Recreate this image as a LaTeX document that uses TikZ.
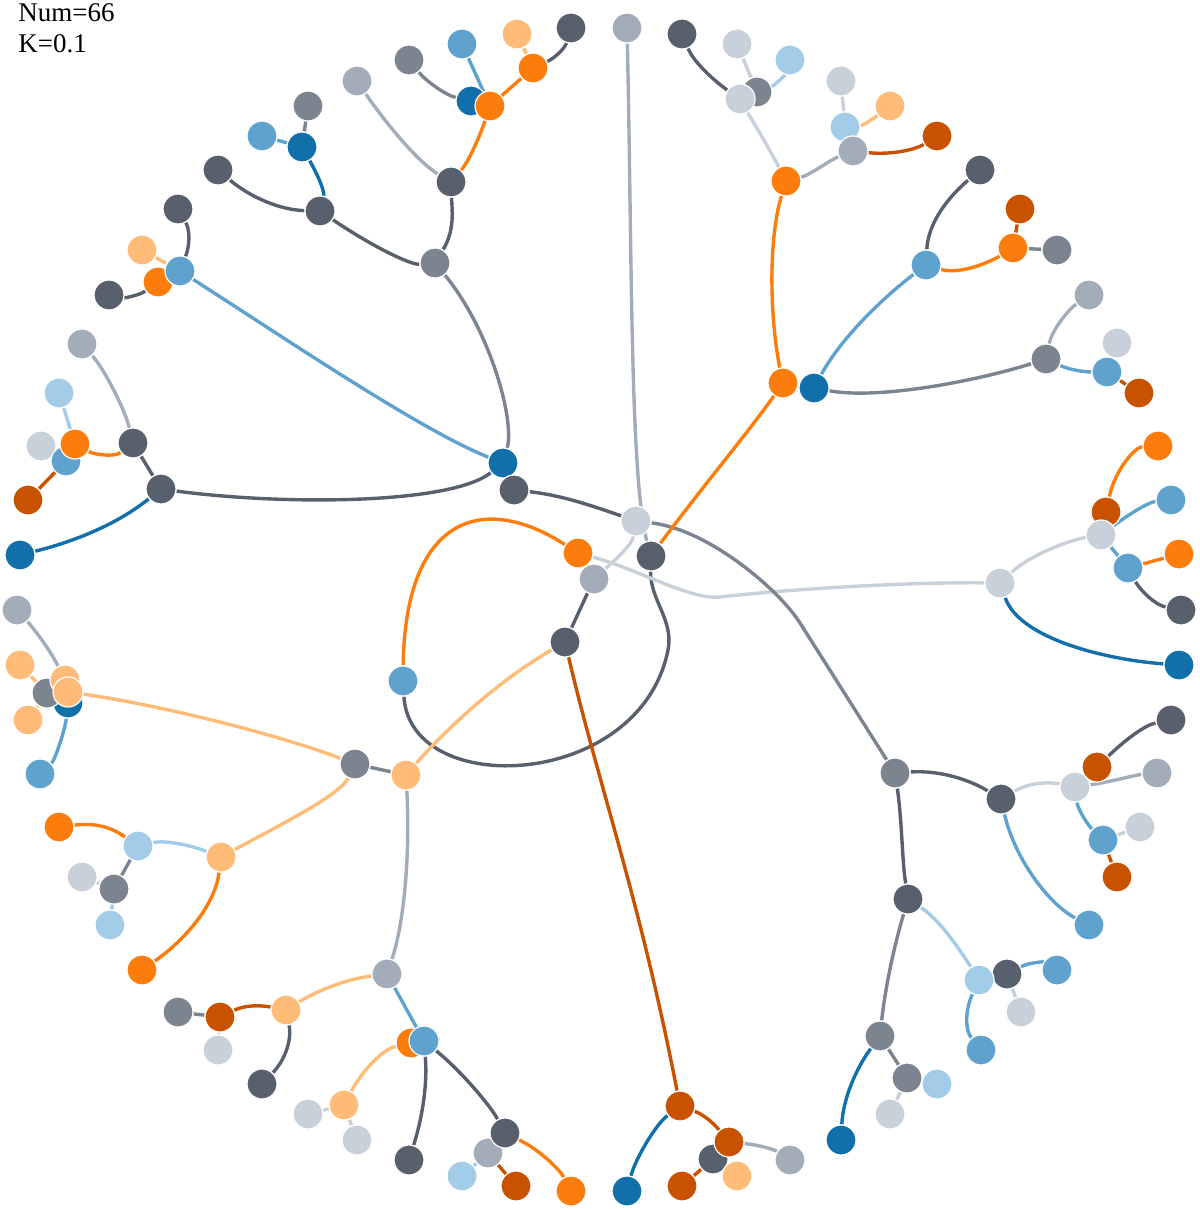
\documentclass[tikz,border=0pt]{standalone}
\usepackage{fontspec}
\setmainfont{Liberation Serif}
\usetikzlibrary{backgrounds}
\definecolor{cDB}{HTML}{1170AA}
\definecolor{cMB}{HTML}{5FA2CE}
\definecolor{cLB}{HTML}{A3CCE9}
\definecolor{cOR}{HTML}{FC7D0B}
\definecolor{cLO}{HTML}{FFBC79}
\definecolor{cDO}{HTML}{C85200}
\definecolor{cDG}{HTML}{57606C}
\definecolor{cGR}{HTML}{7B848F}
\definecolor{cGT}{HTML}{A3ACB9}
\definecolor{cLG}{HTML}{C8D0D9}
\tikzset{
  vtx/.style={circle,draw=white,line width=0.6pt,minimum size=15pt,inner sep=0pt},
  ed/.style={line width=1.7pt},
  lbl/.style={anchor=base west,inner sep=0pt,font=\fontsize{13.5}{16}\selectfont}
}
\newcommand\vx[4]{\node[vtx,fill=c#2] (#1) at (#3,#4) {};}
\newcommand\sedge[3]{\draw[ed,draw=c#1] (#2) -- (#3);}
\begin{document}
\begin{tikzpicture}[x=0.5pt,y=-0.5pt]
\useasboundingbox (0,0) rectangle (1199,1209);
\node[lbl] (t1) at (18,22) {Num=66};
\node[lbl] (t2) at (18,53) {K=0.1};
% ---------- nodes ----------
\vx{r}{MB}{403}{681}
\vx{a}{OR}{578}{553}
\vx{dgc}{DG}{651}{556}
\vx{c}{GT}{594}{579}
\vx{d}{LG}{636}{521}
\vx{dgm}{DG}{565}{642}
\vx{f}{DB}{503}{463}
\vx{e}{DG}{514}{490}
% top-left
\vx{g}{GR}{435}{263}
\vx{h}{DG}{451}{182}
\vx{h1}{GT}{357}{81}
\vx{h21}{DB}{471}{101}
\vx{h2}{OR}{490}{106}
\vx{h211}{GR}{409}{60}
\vx{h22}{MB}{462}{44}
\vx{h23}{OR}{533}{68}
\vx{h231}{LO}{517}{34}
\vx{h232}{DG}{571}{28}
\vx{i}{DG}{320}{211}
\vx{i1}{DB}{302}{147}
\vx{i11}{GR}{308}{106}
\vx{i12}{MB}{262}{136}
\vx{i2}{DG}{218}{170}
\vx{j3}{OR}{158}{282}
\vx{j}{MB}{180}{271}
\vx{j1}{DG}{178}{209}
\vx{j2}{LO}{142}{250}
\vx{j31}{DG}{109}{295}
% left
\vx{k}{DG}{161}{489}
\vx{k1}{DG}{133}{443}
\vx{k11}{GT}{82}{344}
\vx{k1222}{LG}{41}{446}
\vx{k122}{MB}{66}{461}
\vx{k12}{OR}{75}{444}
\vx{k121}{LB}{59}{393}
\vx{k1221}{DO}{28}{500}
\vx{k2}{DB}{20}{555}
% left lower
\vx{m}{LO}{406}{775}
\vx{m1}{GR}{355}{764}
\vx{m113}{DB}{68}{703}
\vx{m112}{GR}{47}{693}
\vx{m111}{LO}{65}{680}
\vx{m11}{LO}{68}{692}
\vx{m1111}{GT}{17}{610}
\vx{m1121}{LO}{20}{665}
\vx{m1122}{LO}{28}{720}
\vx{m1131}{MB}{40}{774}
\vx{m12}{LO}{221}{857}
\vx{m121}{LB}{138}{846}
\vx{m1211}{OR}{59}{827}
\vx{m1212}{GR}{114}{889}
\vx{m12121}{LG}{82}{877}
\vx{m12122}{LB}{110}{925}
\vx{m122}{OR}{142}{970}
\vx{m2}{GT}{387}{974}
\vx{m21}{LO}{286}{1010}
\vx{m211}{DO}{220}{1017}
\vx{m2111}{GR}{178}{1012}
\vx{m2112}{LG}{218}{1050}
\vx{m212}{DG}{262}{1084}
\vx{m221}{OR}{411}{1043}
\vx{m22}{MB}{424}{1041}
\vx{m2211}{LO}{344}{1105}
\vx{m22111}{LG}{308}{1114}
\vx{m22112}{LG}{357}{1140}
\vx{m222}{DG}{409}{1160}
\vx{m2231}{GT}{488}{1153}
\vx{m223}{DG}{505}{1133}
\vx{m22311}{LB}{462}{1176}
\vx{m22312}{DO}{516}{1186}
\vx{m2232}{OR}{571}{1191}
% bottom
\vx{n}{DO}{680}{1106}
\vx{n1}{DB}{627}{1191}
\vx{n22}{DG}{713}{1159}
\vx{n2}{DO}{729}{1142}
\vx{n21}{GT}{790}{1160}
\vx{n221}{DO}{682}{1186}
\vx{n222}{LO}{737}{1176}
% bottom right
\vx{p}{GR}{895}{773}
\vx{p1}{DG}{1001}{799}
\vx{p11}{LG}{1075}{787}
\vx{p111}{DO}{1097}{767}
\vx{p1111}{DG}{1171}{720}
\vx{p112}{GT}{1157}{773}
\vx{p113}{MB}{1103}{840}
\vx{p1131}{LG}{1140}{827}
\vx{p1132}{DO}{1117}{877}
\vx{p12}{MB}{1089}{925}
\vx{p2}{DG}{908}{899}
\vx{p211}{DG}{1007}{974}
\vx{p21}{LB}{979}{980}
\vx{p2111}{MB}{1057}{970}
\vx{p2112}{LG}{1021}{1012}
\vx{p212}{MB}{981}{1050}
\vx{p22}{GR}{880}{1036}
\vx{p221}{DB}{841}{1140}
\vx{p222}{GR}{907}{1078}
\vx{p2221}{LB}{937}{1084}
\vx{p2222}{LG}{890}{1114}
% right
\vx{b}{LG}{1000}{583}
\vx{b11}{DO}{1106}{512}
\vx{b1}{LG}{1101}{535}
\vx{b111}{OR}{1158}{446}
\vx{b12}{MB}{1171}{500}
\vx{b13}{MB}{1128}{568}
\vx{b131}{OR}{1179}{554}
\vx{b132}{DG}{1181}{610}
\vx{b2}{DB}{1179}{665}
% top right
\vx{q}{GT}{627}{28}
\vx{s}{OR}{783}{383}
\vx{s2}{DB}{814}{388}
\vx{s1}{OR}{786}{181}
\vx{s112}{GR}{757}{92}
\vx{s11}{LG}{740}{99}
\vx{s111}{DG}{682}{34}
\vx{s1121}{LG}{737}{44}
\vx{s1122}{LB}{790}{60}
\vx{s121}{LB}{845}{127}
\vx{s12}{GT}{853}{151}
\vx{s1211}{LG}{841}{81}
\vx{s1212}{LO}{890}{106}
\vx{s122}{DO}{937}{136}
\vx{s21}{MB}{926}{265}
\vx{s211}{DG}{980}{170}
\vx{s212}{OR}{1013}{248}
\vx{s2121}{DO}{1020}{209}
\vx{s2122}{GR}{1057}{250}
\vx{s22}{GR}{1046}{359}
\vx{s221}{GT}{1089}{295}
\vx{s2221}{LG}{1117}{343}
\vx{s222}{MB}{1107}{372}
\vx{s2222}{DO}{1139}{393}
% ---------- edges ----------
\begin{pgfonlayer}{background}
% root
\draw[ed,draw=cOR] (r) .. controls (405,520) and (480,490) .. (a);
\draw[ed,draw=cDG] (r) .. controls (410,800) and (640,790) .. (668,650) .. controls (674,620) and (650,600) .. (dgc);
\draw[ed,draw=cLG] (a) .. controls (640,570) and (690,600) .. (720,597) .. controls (780,590) and (900,582) .. (b);
\sedge{GT}{a}{c}
\draw[ed,draw=cLG] (c) .. controls (615,560) and (632,545) .. (d);
\sedge{DG}{c}{dgm}
\draw[ed,draw=cLO] (dgm) .. controls (500,680) and (450,725) .. (m);
\draw[ed,draw=cDO] (dgm) .. controls (600,790) and (640,900) .. (n);
\draw[ed,draw=cDG] (d) .. controls (590,505) and (560,495) .. (e);
\draw[ed,draw=cGR] (d) .. controls (710,530) and (780,591) .. (800,623) -- (p);
\sedge{DB}{e}{f}
\draw[ed,draw=cDG] (f) .. controls (450,505) and (280,505) .. (k);
\draw[ed,draw=cMB] (f) .. controls (420,430) and (280,335) .. (j);
\draw[ed,draw=cGR] (f) .. controls (515,420) and (490,330) .. (g);
% top-left
\draw[ed,draw=cDG] (g) .. controls (455,230) and (452,210) .. (h);
\draw[ed,draw=cDG] (g) .. controls (410,265) and (370,245) .. (i);
\draw[ed,draw=cGT] (h) .. controls (415,160) and (380,115) .. (h1);
\draw[ed,draw=cOR] (h) .. controls (470,160) and (482,130) .. (h2);
\sedge{DB}{h2}{h21}
\draw[ed,draw=cGR] (h21) .. controls (445,95) and (425,80) .. (h211);
\sedge{MB}{h2}{h22}
\sedge{OR}{h2}{h23}
\sedge{LO}{h23}{h231}
\draw[ed,draw=cDG] (h23) .. controls (555,58) and (565,48) .. (h232);
\draw[ed,draw=cDB] (i) .. controls (325,190) and (315,170) .. (i1);
\sedge{GR}{i1}{i11}
\sedge{MB}{i1}{i12}
\draw[ed,draw=cDG] (i) .. controls (280,210) and (250,197) .. (i2);
\draw[ed,draw=cDG] (j) .. controls (190,245) and (190,230) .. (j1);
\sedge{LO}{j}{j2}
\sedge{OR}{j}{j3}
\draw[ed,draw=cDG] (j3) .. controls (140,295) and (125,298) .. (j31);
% left
\sedge{DG}{k}{k1}
\draw[ed,draw=cDB] (k) .. controls (110,530) and (60,545) .. (k2);
\draw[ed,draw=cGT] (k1) .. controls (125,410) and (105,370) .. (k11);
\draw[ed,draw=cOR] (k1) .. controls (115,457) and (95,455) .. (k12);
\sedge{LB}{k12}{k121}
\sedge{MB}{k12}{k122}
\sedge{DO}{k122}{k1221}
\sedge{LG}{k122}{k1222}
% left lower
\sedge{GR}{m}{m1}
\draw[ed,draw=cLO] (m1) .. controls (280,735) and (160,705) .. (m11);
\sedge{LO}{m11}{m111}
\draw[ed,draw=cGT] (m111) .. controls (50,650) and (35,630) .. (m1111);
\sedge{GR}{m11}{m112}
\sedge{LO}{m112}{m1121}
\sedge{LO}{m112}{m1122}
\sedge{DB}{m11}{m113}
\draw[ed,draw=cMB] (m113) .. controls (65,730) and (55,760) .. (m1131);
\draw[ed,draw=cLO] (m1) .. controls (340,795) and (280,825) .. (m12);
\draw[ed,draw=cLB] (m12) .. controls (190,845) and (165,840) .. (m121);
\draw[ed,draw=cOR] (m121) .. controls (115,830) and (100,822) .. (m1211);
\sedge{GR}{m121}{m1212}
\sedge{LG}{m1212}{m12121}
\sedge{LB}{m1212}{m12122}
\draw[ed,draw=cOR] (m12) .. controls (215,905) and (185,940) .. (m122);
\draw[ed,draw=cGT] (m) .. controls (410,850) and (405,920) .. (m2);
\draw[ed,draw=cLO] (m2) .. controls (340,980) and (310,995) .. (m21);
\draw[ed,draw=cDO] (m21) .. controls (260,1005) and (245,1005) .. (m211);
\sedge{GR}{m211}{m2111}
\sedge{LG}{m211}{m2112}
\draw[ed,draw=cDG] (m21) .. controls (292,1040) and (285,1060) .. (m212);
\sedge{MB}{m2}{m22}
\sedge{OR}{m22}{m221}
\draw[ed,draw=cLO] (m221) .. controls (380,1050) and (360,1075) .. (m2211);
\sedge{LG}{m2211}{m22111}
\sedge{LG}{m2211}{m22112}
\draw[ed,draw=cDG] (m22) .. controls (428,1090) and (420,1125) .. (m222);
\draw[ed,draw=cDG] (m22) .. controls (460,1070) and (490,1105) .. (m223);
\sedge{GT}{m223}{m2231}
\sedge{LB}{m2231}{m22311}
\sedge{DO}{m2231}{m22312}
\draw[ed,draw=cOR] (m223) .. controls (540,1150) and (560,1170) .. (m2232);
% bottom
\draw[ed,draw=cDB] (n) .. controls (655,1125) and (635,1160) .. (n1);
\draw[ed,draw=cDO] (n) .. controls (705,1115) and (715,1125) .. (n2);
\draw[ed,draw=cGT] (n2) .. controls (760,1145) and (775,1150) .. (n21);
\sedge{DG}{n2}{n22}
\sedge{DO}{n22}{n221}
\sedge{LO}{n22}{n222}
% bottom right
\draw[ed,draw=cDG] (p) .. controls (940,770) and (970,780) .. (p1);
\draw[ed,draw=cDG] (p) .. controls (902,820) and (902,860) .. (p2);
\draw[ed,draw=cLG] (p1) .. controls (1030,782) and (1050,782) .. (p11);
\sedge{DO}{p11}{p111}
\draw[ed,draw=cDG] (p111) .. controls (1125,740) and (1145,725) .. (p1111);
\draw[ed,draw=cGT] (p11) .. controls (1110,782) and (1135,775) .. (p112);
\draw[ed,draw=cMB] (p11) .. controls (1078,810) and (1088,825) .. (p113);
\sedge{LG}{p113}{p1131}
\sedge{DO}{p113}{p1132}
\draw[ed,draw=cMB] (p1) .. controls (1015,860) and (1050,905) .. (p12);
\draw[ed,draw=cLB] (p2) .. controls (940,920) and (960,950) .. (p21);
\sedge{DG}{p21}{p211}
\draw[ed,draw=cMB] (p211) .. controls (1030,962) and (1045,962) .. (p2111);
\sedge{LG}{p211}{p2112}
\draw[ed,draw=cMB] (p21) .. controls (965,1010) and (965,1030) .. (p212);
\draw[ed,draw=cGR] (p2) .. controls (893,950) and (885,990) .. (p22);
\draw[ed,draw=cDB] (p22) .. controls (855,1070) and (843,1100) .. (p221);
\sedge{GR}{p22}{p222}
\sedge{LB}{p222}{p2221}
\sedge{LG}{p222}{p2222}
% right
\draw[ed,draw=cLG] (b) .. controls (1030,555) and (1070,540) .. (b1);
\sedge{DO}{b1}{b11}
\draw[ed,draw=cOR] (b11) .. controls (1115,470) and (1135,447) .. (b111);
\draw[ed,draw=cMB] (b1) .. controls (1135,510) and (1150,502) .. (b12);
\sedge{MB}{b1}{b13}
\sedge{OR}{b13}{b131}
\draw[ed,draw=cDG] (b13) .. controls (1140,590) and (1155,605) .. (b132);
\draw[ed,draw=cDB] (b) .. controls (1020,640) and (1110,660) .. (b2);
% top right
\draw[ed,draw=cGT] (dgc) .. controls (630,480) and (632,250) .. (q);
\draw[ed,draw=cOR] (dgc) .. controls (700,490) and (750,430) .. (s);
\draw[ed,draw=cOR] (s) .. controls (770,320) and (768,240) .. (s1);
\sedge{DB}{s}{s2}
\draw[ed,draw=cLG] (s1) .. controls (770,150) and (752,120) .. (s11);
\draw[ed,draw=cDG] (s11) .. controls (720,85) and (695,65) .. (s111);
\sedge{GR}{s11}{s112}
\sedge{LG}{s112}{s1121}
\draw[ed,draw=cLB] (s112) .. controls (775,85) and (785,75) .. (s1122);
\draw[ed,draw=cGT] (s1) .. controls (810,175) and (830,160) .. (s12);
\sedge{LB}{s12}{s121}
\sedge{LG}{s121}{s1211}
\draw[ed,draw=cLO] (s121) .. controls (865,125) and (878,115) .. (s1212);
\draw[ed,draw=cDO] (s12) .. controls (890,155) and (915,150) .. (s122);
\draw[ed,draw=cMB] (s2) .. controls (840,340) and (880,300) .. (s21);
\draw[ed,draw=cDG] (s21) .. controls (928,225) and (945,200) .. (s211);
\draw[ed,draw=cOR] (s21) .. controls (960,275) and (990,262) .. (s212);
\sedge{DO}{s212}{s2121}
\sedge{GR}{s212}{s2122}
\draw[ed,draw=cGR] (s2) .. controls (880,400) and (980,380) .. (s22);
\draw[ed,draw=cGT] (s22) .. controls (1052,330) and (1068,310) .. (s221);
\draw[ed,draw=cMB] (s22) .. controls (1070,370) and (1085,372) .. (s222);
\sedge{LG}{s222}{s2221}
\sedge{DO}{s222}{s2222}
\end{pgfonlayer}
\end{tikzpicture}
\end{document}
